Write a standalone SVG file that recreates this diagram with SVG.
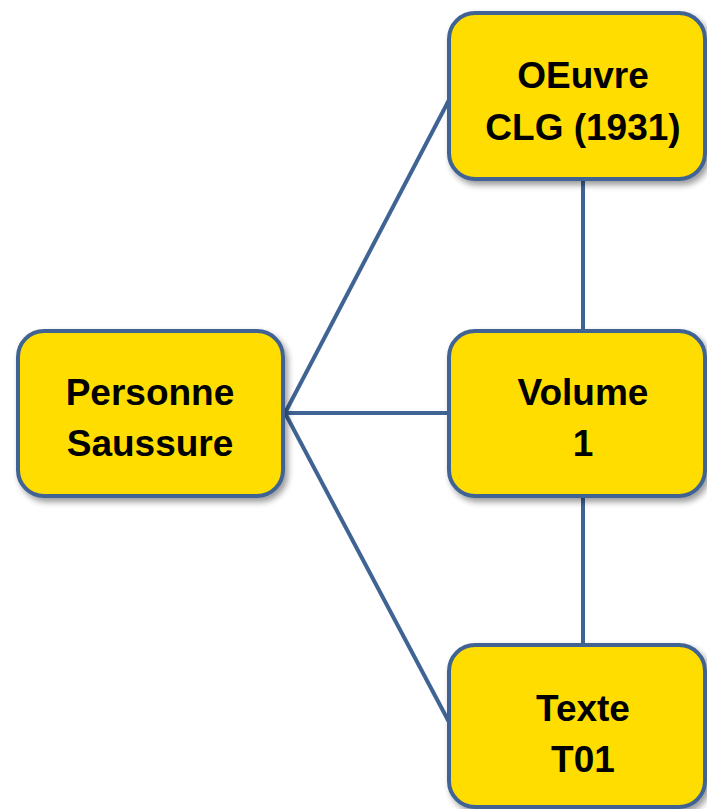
<svg xmlns="http://www.w3.org/2000/svg" width="707" height="809" viewBox="0 0 707 809">
<defs>
<filter id="sh" x="-10%" y="-10%" width="130%" height="130%">
<feGaussianBlur in="SourceAlpha" stdDeviation="3"/>
<feOffset dx="3" dy="4" result="b"/>
<feComponentTransfer><feFuncA type="linear" slope="0.4"/></feComponentTransfer>
<feMerge><feMergeNode/><feMergeNode in="SourceGraphic"/></feMerge>
</filter>
<style>
.box{fill:#FFDD00;stroke:#3F6493;stroke-width:4;filter:url(#sh)}
.lbl{font-family:"Liberation Sans",Arial,sans-serif;font-weight:bold;font-size:37px;fill:#000;text-anchor:middle}
.edge{stroke:#3F6493;stroke-width:4;fill:none}
</style>
</defs>
<rect width="707" height="809" fill="#fff"/>
<g id="connectors">
<line class="edge" x1="285" y1="413" x2="449" y2="100"/>
<line class="edge" x1="285" y1="413" x2="449" y2="413"/>
<line class="edge" x1="285" y1="413" x2="449" y2="722"/>
<line class="edge" x1="583" y1="180" x2="583" y2="331"/>
<line class="edge" x1="583" y1="496" x2="583" y2="645"/>
</g>
<g id="personne">
<rect class="box" x="18" y="331" width="265" height="165" rx="26"/>
<text class="lbl" x="150" y="405">Personne</text>
<text class="lbl" x="150" y="456">Saussure</text>
</g>
<g id="oeuvre">
<rect class="box" x="449" y="13" width="256" height="166" rx="26"/>
<text class="lbl" x="583" y="88">OEuvre</text>
<text class="lbl" x="583" y="140">CLG (1931)</text>
</g>
<g id="volume">
<rect class="box" x="449" y="331" width="256" height="165" rx="26"/>
<text class="lbl" x="583" y="405">Volume</text>
<text class="lbl" x="583" y="456">1</text>
</g>
<g id="texte">
<rect class="box" x="449" y="645" width="256" height="162" rx="26"/>
<text class="lbl" x="583" y="721">Texte</text>
<text class="lbl" x="583" y="772">T01</text>
</g>
</svg>
